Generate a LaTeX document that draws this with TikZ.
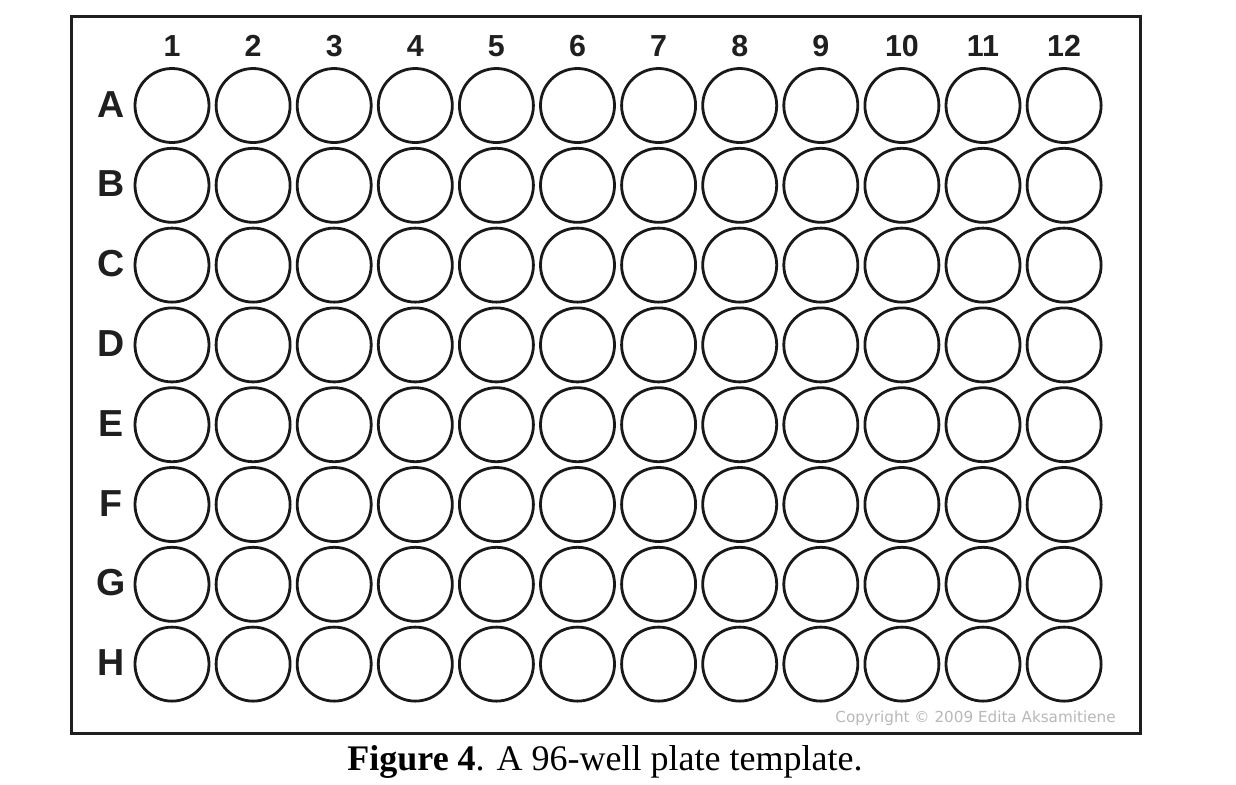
\documentclass[tikz,border=0pt]{standalone}
\usepackage{fontspec}
\setmainfont{Liberation Serif}
\setsansfont{Liberation Sans}
\newfontfamily\copyfont{DejaVu Sans}
\begin{document}
\begin{tikzpicture}[x=0.5pt,y=-0.5pt,
  well/.style={circle,draw=black!90,line width=1.4pt,minimum size=37pt,inner sep=0pt},
  collab/.style={font=\sffamily\bfseries\fontsize{15.2}{15}\selectfont,text=black!88,inner sep=0pt,anchor=base},
  rowlab/.style={font=\sffamily\bfseries\fontsize{18.8}{18}\selectfont,text=black!88,inner sep=0pt,anchor=base},
  plate/.style={draw=black!88,line width=1.5pt}]
\useasboundingbox (0,0) rectangle (1236,784);
\fill[white] (0,0) rectangle (1236,784);
\draw[plate] (71,16) rectangle (1140,733);
\foreach \c [count=\j from 0] in {1,...,12}{
  \node[collab] (col\c) at ({172+81.1*\j},56) {\c};
}
\foreach \r [count=\i from 0] in {A,B,C,D,E,F,G,H}{
  \node[rowlab] (row\r) at (111,{117+79.8*\i}) {\r};
  \foreach \c [count=\j from 0] in {1,...,12}{
    \node[well] (well\r\c) at ({172+81.1*\j},{105.5+79.8*\i}) {};
  }
}
\node[font=\copyfont\fontsize{7.6}{8}\selectfont,text=black!28,anchor=base east,inner sep=0pt] (copy) at (1116,722) {Copyright © 2009 Edita Aksamitiene};
\node[font=\fontsize{18}{18}\selectfont,anchor=base,inner sep=0pt] (caption) at (605,770) {\textbf{Figure 4}. A 96-well plate template.};
\end{tikzpicture}
\end{document}
